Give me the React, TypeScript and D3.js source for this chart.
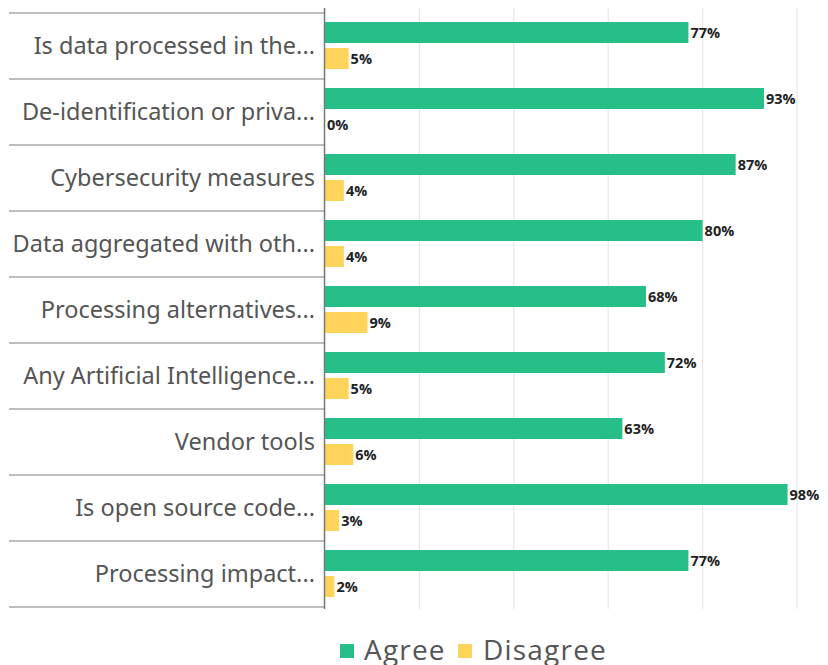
import React from "react";
import * as d3 from "d3";

const categories = [
  "Is data processed in the...",
  "De-identification or priva...",
  "Cybersecurity measures",
  "Data aggregated with oth...",
  "Processing alternatives...",
  "Any Artificial Intelligence...",
  "Vendor tools",
  "Is open source code...",
  "Processing impact...",
];
const agree = [77, 93, 87, 80, 68, 72, 63, 98, 77];
const disagree = [5, 0, 4, 4, 9, 5, 6, 3, 2];
const seriesNames = ["Agree", "Disagree"];
const xTicks = [0, 20, 40, 60, 80, 100];

const W = 828;
const H = 665;
const GREEN = "#26BF87";
const YELLOW = "#FFD45A";

export default function App() {
  const x = d3.scaleLinear().domain([0, 100]).range([325, 797]);
  const y = d3.scaleBand<string>().domain(categories).range([13, 607]);
  const bw = y.bandwidth();
  const barH = 21;
  const series = [agree, disagree];
  const colors = [GREEN, YELLOW];
  const offsets = [9, 35];

  return (
    <svg width={W} height={H} style={{ position: "absolute", left: 0, top: 0, background: "#fff" }}>
      {xTicks.slice(1).map((t) => (
        <line key={t} x1={x(t)} x2={x(t)} y1={8} y2={609} stroke="#e4e4e4" strokeWidth={1} />
      ))}
      {categories.map((c, i) => (
        <line key={"sep" + i} x1={9} x2={325} y1={y(c)!} y2={y(c)!} stroke="#aaa" strokeWidth={1.5} />
      ))}
      <line x1={9} x2={325} y1={y.range()[1]} y2={y.range()[1]} stroke="#aaa" strokeWidth={1.5} />
      {categories.map((c, i) => (
        <text
          key={"lbl" + i}
          x={315}
          y={y(c)! + bw / 2}
          dy="0.35em"
          textAnchor="end"
          fontFamily="'Noto Sans', sans-serif"
          fontSize={23.5}
          fill="#555"
        >
          {c}
        </text>
      ))}
      {series.map((vals, s) =>
        categories.map((c, i) => {
          const y0 = y(c)! + offsets[s];
          return (
            <g key={s + "-" + i}>
              <rect
                x={x(0)}
                y={y0}
                width={x(vals[i]) - x(0)}
                height={barH}
                fill={colors[s]}
              />
              <text
                x={x(vals[i]) + 2}
                y={y0 + barH / 2}
                dy="0.35em"
                fontFamily="'Open Sans', sans-serif"
                fontWeight={700}
                fontSize={14.5}
                fill="#222"
              >
                {vals[i] + "%"}
              </text>
            </g>
          );
        })
      )}
      <line x1={324.5} x2={324.5} y1={8} y2={609} stroke="#777" strokeWidth={1.5} />
      <g>
        <rect x={340} y={644} width={14} height={14} fill={GREEN} />
        <text x={364} y={660} fontFamily="'Open Sans', sans-serif" fontSize={28} letterSpacing={1.2} fill="#555">
          {seriesNames[0]}
        </text>
        <rect x={458} y={644} width={14} height={14} fill={YELLOW} />
        <text x={483} y={660} fontFamily="'Open Sans', sans-serif" fontSize={28} letterSpacing={1.2} fill="#555">
          {seriesNames[1]}
        </text>
      </g>
    </svg>
  );
}
